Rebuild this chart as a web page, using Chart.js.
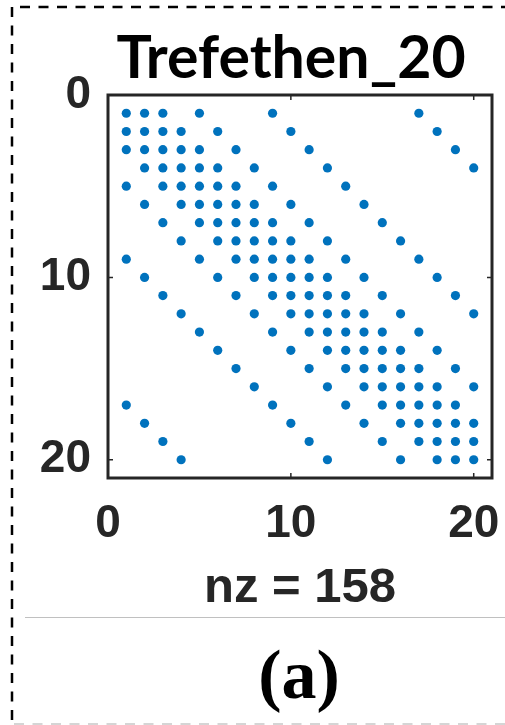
<!DOCTYPE html>
<html><head><meta charset="utf-8">
<script src="https://cdn.jsdelivr.net/npm/chart.js@4"></script>
<style>
html,body{margin:0;padding:0;background:#fff;overflow:hidden}
#wrap{position:absolute;left:0;top:0;width:505px;height:725px}
</style></head><body>
<div id="wrap"><canvas id="c" width="505" height="725"></canvas></div>
<script>
const chartTitle = 'Trefethen_20';
const xAxisLabel = 'nz = 158';
const panelLabel = '(a)';
const axisMax = 21;
const xTickValues = [0, 10, 20];
const yTickValues = [0, 10, 20];
// nonzero column indices for each row 1..20
const nonzeroColumnsByRow = [
  [1,2,3,5,9,17],
  [1,2,3,4,6,10,18],
  [1,2,3,4,5,7,11,19],
  [2,3,4,5,6,8,12,20],
  [1,3,4,5,6,7,9,13],
  [2,4,5,6,7,8,10,14],
  [3,5,6,7,8,9,11,15],
  [4,6,7,8,9,10,12,16],
  [1,5,7,8,9,10,11,13,17],
  [2,6,8,9,10,11,12,14,18],
  [3,7,9,10,11,12,13,15,19],
  [4,8,10,11,12,13,14,16,20],
  [5,9,11,12,13,14,15,17],
  [6,10,12,13,14,15,16,18],
  [7,11,13,14,15,16,17,19],
  [8,12,14,15,16,17,18,20],
  [1,9,13,15,16,17,18,19],
  [2,10,14,16,17,18,19,20],
  [3,11,15,17,18,19,20],
  [4,12,16,18,19,20]
];

const points = [];
nonzeroColumnsByRow.forEach((cols, i) => cols.forEach(c => points.push({x: c, y: i + 1})));

const decor = {
  id: 'decor',
  afterDraw(chart) {
    const ctx = chart.ctx;
    const a = chart.chartArea;
    const xs = chart.scales.x, ys = chart.scales.y;
    ctx.save();
    // frame
    ctx.strokeStyle = '#262626';
    ctx.lineWidth = 3;
    ctx.strokeRect(a.left, a.top, a.right - a.left, a.bottom - a.top);
    // inner tick marks
    ctx.lineWidth = 1.5;
    ctx.beginPath();
    xTickValues.forEach(v => {
      const px = xs.getPixelForValue(v);
      ctx.moveTo(px, a.top); ctx.lineTo(px, a.top + 5);
      ctx.moveTo(px, a.bottom); ctx.lineTo(px, a.bottom - 5);
    });
    yTickValues.forEach(v => {
      const py = ys.getPixelForValue(v);
      ctx.moveTo(a.left, py); ctx.lineTo(a.left + 5, py);
      ctx.moveTo(a.right, py); ctx.lineTo(a.right - 5, py);
    });
    ctx.stroke();
    // outer dashed border
    ctx.setLineDash([10, 8.5]);
    ctx.strokeStyle = '#000';
    ctx.lineWidth = 2.5;
    ctx.beginPath();
    ctx.moveTo(20, 7); ctx.lineTo(505, 7);
    ctx.moveTo(12, 7); ctx.lineTo(12, 725);
    ctx.stroke();
    ctx.strokeStyle = '#c8c8c8';
    ctx.lineWidth = 1.5;
    ctx.beginPath();
    ctx.moveTo(14, 724); ctx.lineTo(505, 724);
    ctx.stroke();
    ctx.setLineDash([]);
    // separator
    ctx.strokeStyle = '#c0c0c0';
    ctx.lineWidth = 1;
    ctx.beginPath();
    ctx.moveTo(25, 617.5); ctx.lineTo(505, 617.5);
    ctx.stroke();
    // panel label
    ctx.fillStyle = '#000';
    ctx.font = 'bold 70px "Liberation Serif"';
    ctx.textAlign = 'center';
    ctx.textBaseline = 'alphabetic';
    ctx.fillText(panelLabel, 299, 698);
    ctx.restore();
  }
};

new Chart(document.getElementById('c'), {
  type: 'scatter',
  data: {
    datasets: [{
      data: points,
      pointRadius: 4.6,
      pointHoverRadius: 4.6,
      pointBorderWidth: 0,
      backgroundColor: '#0072BD',
      borderColor: '#0072BD'
    }]
  },
  options: {
    responsive: false,
    animation: false,
    devicePixelRatio: 1,
    layout: {padding: {left: 39, right: -38, top: 0, bottom: 107}},
    plugins: {
      legend: {display: false},
      tooltip: {enabled: false},
      title: {
        display: true,
        text: chartTitle,
        color: '#000',
        font: {family: 'Lato', weight: 'bold', size: 59, lineHeight: 1.2},
        padding: {top: 23.5, bottom: 0.7}
      }
    },
    scales: {
      x: {
        type: 'linear', min: 0, max: axisMax,
        grid: {display: false, drawTicks: false},
        border: {display: false},
        ticks: {color: '#262626', font: {family: 'Liberation Sans', weight: 'bold', size: 46}, padding: 19, maxRotation: 0, autoSkip: false},
        afterBuildTicks: s => { s.ticks = xTickValues.map(v => ({value: v})); },
        afterFit: s => { s.height = 140; s.paddingLeft = 0; s.paddingRight = 0; },
        title: {display: true, text: xAxisLabel, color: '#262626', font: {family: 'Liberation Sans', weight: 'bold', size: 49, lineHeight: 1.2}, padding: {top: 0, bottom: 0}}
      },
      y: {
        type: 'linear', position: 'left', min: 0, max: axisMax, reverse: true,
        grid: {display: false, drawTicks: false},
        border: {display: false},
        ticks: {color: '#262626', font: {family: 'Liberation Sans', weight: 'bold', size: 46}, padding: 17, autoSkip: false},
        afterBuildTicks: s => { s.ticks = yTickValues.map(v => ({value: v})); },
        afterFit: s => { s.width = 69; s.paddingTop = 0; s.paddingBottom = 0; }
      },
      y2: {
        type: 'linear', axis: 'y', position: 'right', min: 0, max: axisMax, reverse: true,
        grid: {display: false, drawTicks: false},
        border: {display: false},
        ticks: {display: false},
        afterFit: s => { s.width = 51; s.paddingTop = 0; s.paddingBottom = 0; }
      }
    }
  },
  plugins: [decor]
});
</script>
</body></html>
